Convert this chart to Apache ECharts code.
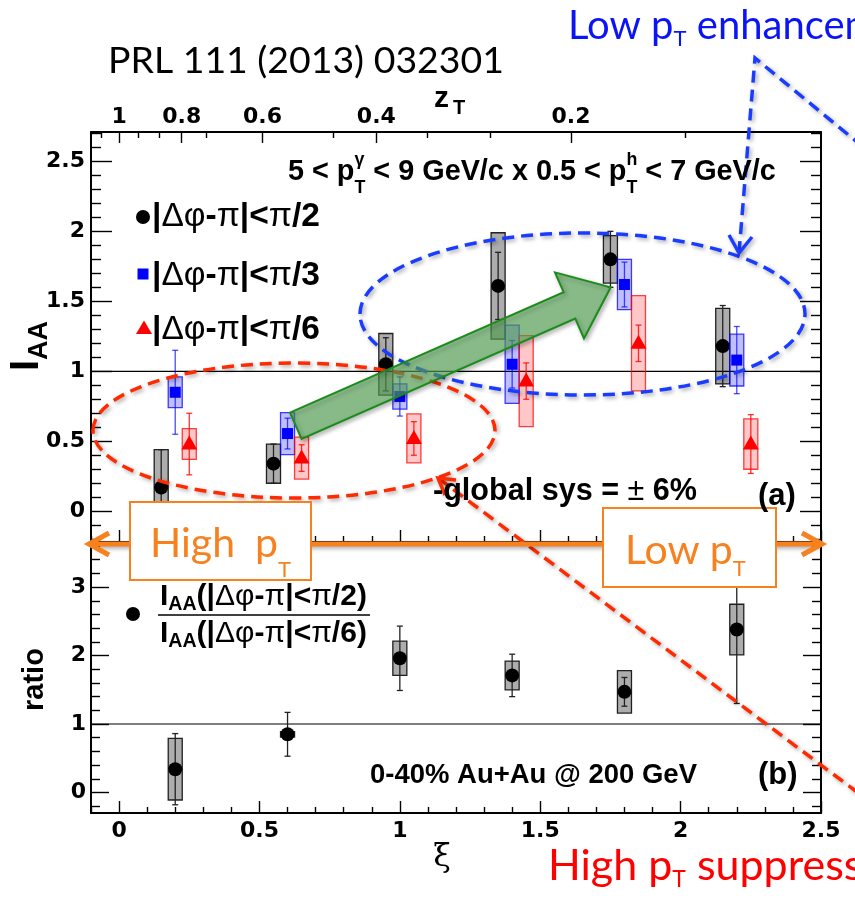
<!DOCTYPE html>
<html><head><meta charset="utf-8">
<script src="https://cdn.jsdelivr.net/npm/echarts@6/dist/echarts.min.js"></script>
<style>html,body{margin:0;padding:0;background:#fff}#c{width:855px;height:898px}</style>
</head><body><div id="c"></div>
<script>
// ---------------- data ----------------
const xiBins   = [0.2, 0.6, 1.0, 1.4, 1.8, 2.2];
const iaaPi2   = [0.17, 0.34, 1.05, 1.61, 1.80, 1.18];
const statPi2  = [0.27, 0.14, 0.19, 0.24, 0.20, 0.29];
const sysPi2   = [0.27, 0.14, 0.22, 0.38, 0.17, 0.27];
const iaaPi3   = [0.85, 0.555, 0.82, 1.05, 1.62, 1.08];
const statPi3  = [0.30, 0.11, 0.14, 0.17, 0.16, 0.24];
const sysPi3   = [0.11, 0.15, 0.09, 0.28, 0.18, 0.185];
const iaaPi6   = [0.48, 0.38, 0.52, 0.93, 1.20, 0.48];
const statPi6  = [0.22, 0.095, 0.12, 0.13, 0.13, 0.21];
const sysPi6   = [0.11, 0.15, 0.175, 0.325, 0.34, 0.18];
const ratioVal = [0.34, 0.85, 1.96, 1.71, 1.47, 2.38];
const ratioStat= [0.52, 0.32, 0.47, 0.31, 0.21, 1.08];
const ratioSys = [0.45, 0.04, 0.25, 0.21, 0.31, 0.37];
const xiTicks    = [0, 0.5, 1, 1.5, 2, 2.5];
const zTTicks    = [1, 0.8, 0.6, 0.4, 0.2];
const zTMinor    = [1.0667, 0.9333, 0.8667, 0.7333, 0.4667, 0.3333, 0.2667, 0.1333];
const iaaTicks   = [0, 0.5, 1, 1.5, 2, 2.5];
const ratioTicks = [0, 1, 2, 3];

// ---------------- layout constants ----------------
const XMIN = -0.1, XMAX = 2.5, Y1MIN = -0.22, Y1MAX = 2.71, Y2MIN = -0.3, Y2MAX = 3.63;
const BOXW = 0.025;
const Z = 20;
const ORANGE = '#f7811e', BLUE = '#1a3cff', RED = '#ff2a00';
const LIB = '"Liberation Sans"';

function steps(a, b, s) { const o = []; for (let k = Math.round(a / s); k <= Math.round(b / s); k++) o.push(+(k * s).toFixed(4)); return o; }
function minus(arr, maj) { return arr.filter(v => !maj.some(m => Math.abs(m - v) < 1e-6)); }
const xiMinor = minus(steps(-0.1, 2.5, 0.1), xiTicks);
const iaaMinor = minus(steps(-0.2, 2.7, 0.1), iaaTicks);
const ratioMinor = minus(steps(-0.2, 3.6, 0.2), ratioTicks);
const zToXi = z => Math.log(1 / z);

const LBL = {fontFamily: 'DejaVu Sans', fontWeight: 'bold', fontSize: 22, color: '#000'};
function ax(o) {
  const a = {type: 'value', gridIndex: o.g, position: o.pos, min: o.min, max: o.max,
    axisLine: {show: !!o.line, onZero: false, lineStyle: {color: '#000', width: 2}},
    splitLine: {show: false},
    axisTick: {show: !!o.ticks, inside: true, length: o.len || 0, lineStyle: {color: '#000', width: 1.4}},
    axisLabel: {show: false}, axisPointer: {show: false}};
  if (o.ticks) a.axisTick.customValues = o.ticks;
  if (o.labels) {
    a.axisLabel = Object.assign({show: true, customValues: o.labels, margin: o.margin || 6}, LBL);
    if (o.fmt) a.axisLabel.formatter = o.fmt;
  }
  return a;
}
const xAxes = [
  ax({g: 0, pos: 'bottom', min: XMIN, max: XMAX, line: true, ticks: xiTicks, len: 12}),
  ax({g: 0, pos: 'bottom', min: XMIN, max: XMAX, ticks: xiMinor, len: 6}),
  ax({g: 0, pos: 'top', min: XMIN, max: XMAX, line: true, ticks: zTTicks.map(zToXi), len: 11,
      labels: zTTicks.map(zToXi), margin: 4, fmt: v => String(Math.round(Math.exp(-v) * 10) / 10)}),
  ax({g: 0, pos: 'top', min: XMIN, max: XMAX, ticks: zTMinor.map(zToXi), len: 6}),
  ax({g: 1, pos: 'bottom', min: XMIN, max: XMAX, line: true, ticks: xiTicks, len: 12, labels: xiTicks, margin: 7}),
  ax({g: 1, pos: 'bottom', min: XMIN, max: XMAX, ticks: xiMinor, len: 6}),
  ax({g: 1, pos: 'top', min: XMIN, max: XMAX, line: true})
];
const yAxes = [
  ax({g: 0, pos: 'left', min: Y1MIN, max: Y1MAX, line: true, ticks: iaaTicks, len: 21, labels: iaaTicks, margin: 6}),
  ax({g: 0, pos: 'left', min: Y1MIN, max: Y1MAX, ticks: iaaMinor, len: 10}),
  ax({g: 0, pos: 'right', min: Y1MIN, max: Y1MAX, line: true, ticks: iaaTicks, len: 21}),
  ax({g: 0, pos: 'right', min: Y1MIN, max: Y1MAX, ticks: iaaMinor, len: 10}),
  ax({g: 1, pos: 'left', min: Y2MIN, max: Y2MAX, line: true, ticks: ratioTicks, len: 18, labels: ratioTicks, margin: 5}),
  ax({g: 1, pos: 'left', min: Y2MIN, max: Y2MAX, ticks: ratioMinor, len: 9}),
  ax({g: 1, pos: 'right', min: Y2MIN, max: Y2MAX, line: true, ticks: ratioTicks, len: 18}),
  ax({g: 1, pos: 'right', min: Y2MIN, max: Y2MAX, ticks: ratioMinor, len: 9})
];

// ---------------- error-bar series ----------------
function marker(kind, cx, cy, col) {
  if (kind === 'circle') return {type: 'circle', shape: {cx, cy, r: 7}, style: {fill: col}};
  if (kind === 'square') return {type: 'rect', shape: {x: cx - 5.5, y: cy - 5.5, width: 11, height: 11}, style: {fill: col}};
  return {type: 'polygon', shape: {points: [[cx, cy - 8.5], [cx + 8, cy + 5.5], [cx - 8, cy + 5.5]]}, style: {fill: col}};
}
function errRender(kind, dx, st) {
  return function (params, api) {
    const x = api.value(0) + dx, v = api.value(1), se = api.value(2), sy = api.value(3);
    const p = api.coord([x, v]);
    const xl = api.coord([x - BOXW, v])[0], xr = api.coord([x + BOXW, v])[0];
    const bt = api.coord([x, v + sy])[1], bb = api.coord([x, v - sy])[1];
    const et = api.coord([x, v + se])[1], eb = api.coord([x, v - se])[1];
    return {type: 'group', children: [
      {type: 'rect', shape: {x: xl, y: bt, width: xr - xl, height: bb - bt}, style: {fill: st.boxFill, stroke: st.boxStroke, lineWidth: 1.3}},
      {type: 'line', shape: {x1: p[0], y1: et, x2: p[0], y2: eb}, style: {stroke: st.bar, lineWidth: 1.3}},
      {type: 'line', shape: {x1: p[0] - 3, y1: et, x2: p[0] + 3, y2: et}, style: {stroke: st.bar, lineWidth: 1.3}},
      {type: 'line', shape: {x1: p[0] - 3, y1: eb, x2: p[0] + 3, y2: eb}, style: {stroke: st.bar, lineWidth: 1.3}},
      marker(kind, p[0], p[1], st.mark)
    ]};
  };
}
const stBlack = {boxFill: 'rgba(0,0,0,0.32)', boxStroke: 'rgba(0,0,0,0.85)', bar: '#222', mark: '#000'};
const stBlue  = {boxFill: 'rgba(0,0,255,0.25)', boxStroke: 'rgba(0,0,255,0.75)', bar: 'rgba(0,0,255,0.7)', mark: '#0000ff'};
const stRed   = {boxFill: 'rgba(255,0,0,0.22)', boxStroke: 'rgba(255,0,0,0.75)', bar: 'rgba(255,0,0,0.8)', mark: '#ff0000'};
function rows(v, s, y) { return xiBins.map((x, i) => [x, v[i], s[i], y[i]]); }
function errSeries(xi, yi, kind, dx, st, data) {
  return {type: 'custom', xAxisIndex: xi, yAxisIndex: yi, renderItem: errRender(kind, dx, st), data,
    encode: {x: 0, y: 1}, z: 3, silent: true, animation: false};
}
function unitLine(xi, yi) {
  return {type: 'line', xAxisIndex: xi, yAxisIndex: yi, data: [[XMIN, 1], [XMAX, 1]], symbol: 'none',
    lineStyle: {color: '#000', width: 1.2}, z: 1, silent: true, animation: false};
}

// ---------------- text helpers ----------------
const cv = document.createElement('canvas').getContext('2d');
function mw(t, f) { cv.font = f; return cv.measureText(t).width; }
function seq(x, y, parts, o) {
  o = o || {};
  const fam = o.family || LIB;
  const fs = (p, s) => (p.it ? 'italic ' : '') + (p.w || o.w || 'bold') + ' ' + (p.size * s).toFixed(2) + 'px ' + (p.family || fam);
  function layout(s) {
    let cx = 0, sw = 0; const out = [];
    for (const p of parts) {
      cx += (p.gap || 0) * s;
      const f = fs(p, s), w = mw(p.t, f);
      out.push({p, f, x: cx});
      if (p.stack) sw = Math.max(sw, w); else { cx += Math.max(w, sw); sw = 0; }
    }
    return {out, width: cx};
  }
  let s = 1, L = layout(1);
  if (o.width) { s = o.width / L.width; L = layout(s); }
  const children = L.out.map(q => ({type: 'text', x: q.x, y: (q.p.dy || 0) * s, z: Z + 2,
    style: {text: q.p.t, font: q.f, fill: q.p.fill || o.fill || '#000', align: 'left', textAlign: 'left',
      verticalAlign: 'middle', textVerticalAlign: 'middle'}}));
  return {type: 'group', x, y, rotation: o.rot || 0, children, z: Z + 2, silent: true};
}
const shadow = {shadowBlur: 4, shadowColor: 'rgba(0,0,0,0.35)', shadowOffsetX: 2, shadowOffsetY: 2};
function dline(pts, color, dash) {
  return {type: 'polyline', shape: {points: pts}, z: Z,
    style: Object.assign({stroke: color, lineWidth: 3.5, fill: null, lineDash: dash ? [12, 7] : null, lineCap: 'butt', lineJoin: 'miter'}, shadow)};
}

const G = [];
// ----- axis titles -----
G.push(seq(27, 371, [{t: 'I', size: 40}, {t: 'AA', size: 27, dy: 13}], {rot: Math.PI / 2}));
G.push(seq(35, 711, [{t: 'ratio', size: 29}], {rot: Math.PI / 2}));
G.push(seq(434, 99, [{t: 'z', size: 30}, {t: 'T', size: 20, dy: 9, gap: 4}]));
G.push({type: 'text', x: 442, y: 858, z: Z, style: {text: 'ξ', font: '32px "DejaVu Serif"', fill: '#000', align: 'center', textAlign: 'center', verticalAlign: 'middle', textVerticalAlign: 'middle'}});
// ----- panel (a) texts -----
G.push(seq(288, 172, [
  {t: '5 < p', size: 21}, {t: 'γ', size: 13, dy: -9, stack: true}, {t: 'T', size: 13, dy: 12},
  {t: ' < 9 GeV/c x 0.5 < p', size: 21}, {t: 'h', size: 13, dy: -9, stack: true}, {t: 'T', size: 13, dy: 12},
  {t: ' < 7 GeV/c', size: 21}], {width: 488}));
function legParts(last) {
  return [{t: '|', size: 26}, {t: 'Δφ', size: 26, w: 'normal'}, {t: '-', size: 26}, {t: 'π', size: 26, w: 'normal'},
          {t: '|<', size: 26}, {t: 'π', size: 26, w: 'normal'}, {t: '/' + last, size: 26}];
}
G.push(seq(152, 217, legParts('2'), {width: 168}));
G.push(seq(152, 276, legParts('3'), {width: 168}));
G.push(seq(152, 330, legParts('6'), {width: 168}));
G.push({type: 'circle', shape: {cx: 143, cy: 217, r: 7}, style: {fill: '#000'}, z: Z});
G.push({type: 'rect', shape: {x: 137.5, y: 268.5, width: 11, height: 11}, style: {fill: '#0000ff'}, z: Z});
G.push({type: 'polygon', shape: {points: [[144, 320.5], [152, 334], [136, 334]]}, style: {fill: '#ff0000'}, z: Z});
G.push(seq(433, 492, [{t: '-global sys = ', size: 24}, {t: '±', size: 24, w: 'normal'}, {t: ' 6%', size: 24}], {width: 264}));
G.push(seq(758, 496, [{t: '(a)', size: 31}]));
// ----- panel (b) texts -----
G.push(seq(370, 775, [{t: '0-40% Au+Au @ 200 GeV', size: 22}], {width: 327}));
G.push(seq(758, 775, [{t: '(b)', size: 31}]));
function fracParts(last) {
  return [{t: 'I', size: 23}, {t: 'AA', size: 15, dy: 6}, {t: '(|', size: 23}, {t: 'Δφ', size: 23, w: 'normal'},
          {t: '-', size: 23}, {t: 'π', size: 23, w: 'normal'}, {t: '|<', size: 23}, {t: 'π', size: 23, w: 'normal'},
          {t: '/' + last + ')', size: 23}];
}
G.push(seq(160, 597, fracParts('2'), {width: 207}));
G.push(seq(160, 634, fracParts('6'), {width: 207}));
G.push({type: 'line', shape: {x1: 158, y1: 615, x2: 370, y2: 615}, style: {stroke: '#000', lineWidth: 1.5}, z: Z});
G.push({type: 'circle', shape: {cx: 133, cy: 614, r: 7}, style: {fill: '#000'}, z: Z});

// ----- overlay annotations -----
G.push(seq(108, 61, [{t: 'PRL 111 (2013) 032301', size: 38}], {family: 'Lato', w: 'normal', width: 396}));
G.push(seq(568, 26, [{t: 'Low p', size: 40}, {t: 'T', size: 22, dy: 13}, {t: ' enhancement', size: 40}], {family: 'Lato', w: 'normal', fill: '#0a14f5'}));
G.push(seq(548, 866, [{t: 'High p', size: 43}, {t: 'T', size: 23, dy: 14}, {t: ' suppression', size: 43}], {family: 'Lato', w: 'normal', fill: '#ff0000'}));
// ellipses
G.push({type: 'ellipse', shape: {cx: 582.5, cy: 314, rx: 222.5, ry: 81}, z: Z,
  style: Object.assign({fill: null, stroke: BLUE, lineWidth: 3.5, lineDash: [12, 7]}, shadow)});
G.push({type: 'ellipse', shape: {cx: 294, cy: 430.5, rx: 201, ry: 67.5}, z: Z,
  style: Object.assign({fill: null, stroke: RED, lineWidth: 3.5, lineDash: [12, 7]}, shadow)});
// green block arrow
G.push({type: 'polygon', z: Z, shape: {points: [[290, 412.6], [563.7, 292.2], [555, 272.4], [610.7, 287.3], [584, 338.4], [575.3, 318.6], [301.6, 439]]},
  style: Object.assign({fill: 'rgba(90,175,90,0.6)', stroke: '#1a8c1a', lineWidth: 2}, shadow)});
// blue dashed callout
G.push(dline([[739, 253], [755, 58], [885, 165]], BLUE, true));
G.push(dline([[729, 235], [739, 253], [752, 237]], BLUE, false));
// red dashed callout
G.push(dline([[438, 478], [905, 828]], RED, true));
G.push(dline([[445, 495], [438, 478], [456, 480]], RED, false));
// orange double arrow with boxes
G.push({type: 'line', shape: {x1: 92, y1: 544, x2: 819, y2: 544}, z: Z + 1, style: Object.assign({stroke: ORANGE, lineWidth: 5}, shadow)});
G.push({type: 'polyline', shape: {points: [[109, 533], [89, 544], [109, 555]]}, z: Z + 1, style: {stroke: ORANGE, lineWidth: 5, fill: null}});
G.push({type: 'polyline', shape: {points: [[802, 533], [822, 544], [802, 555]]}, z: Z + 1, style: {stroke: ORANGE, lineWidth: 5, fill: null}});
G.push({type: 'rect', shape: {x: 130, y: 502, width: 181, height: 78}, z: Z + 1, style: {fill: '#fff', stroke: ORANGE, lineWidth: 2}});
G.push({type: 'rect', shape: {x: 603, y: 508, width: 173, height: 79}, z: Z + 1, style: {fill: '#fff', stroke: ORANGE, lineWidth: 2}});
G.push(seq(150, 544, [{t: 'High', size: 41}, {t: 'p', size: 41, gap: 20}, {t: 'T', size: 22, dy: 26}], {family: 'Lato', w: 'normal', fill: ORANGE}));
G.push(seq(625, 551, [{t: 'Low', size: 41}, {t: 'p', size: 41, gap: 10}, {t: 'T', size: 22, dy: 18}], {family: 'Lato', w: 'normal', fill: ORANGE}));

const option = {
  animation: false,
  backgroundColor: '#fff',
  grid: [{left: 91, top: 132, width: 730, height: 410}, {left: 91, top: 544, width: 730, height: 269}],
  xAxis: xAxes,
  yAxis: yAxes,
  series: [
    unitLine(0, 0), unitLine(4, 4),
    errSeries(0, 0, 'circle', -0.05, stBlack, rows(iaaPi2, statPi2, sysPi2)),
    errSeries(0, 0, 'square', 0, stBlue, rows(iaaPi3, statPi3, sysPi3)),
    errSeries(0, 0, 'triangle', 0.05, stRed, rows(iaaPi6, statPi6, sysPi6)),
    errSeries(4, 4, 'circle', 0, stBlack, rows(ratioVal, ratioStat, ratioSys))
  ],
  graphic: {elements: G}
};
const chart = echarts.init(document.getElementById('c'), null, {renderer: 'canvas', width: 855, height: 898});
chart.setOption(option);
</script></body></html>
